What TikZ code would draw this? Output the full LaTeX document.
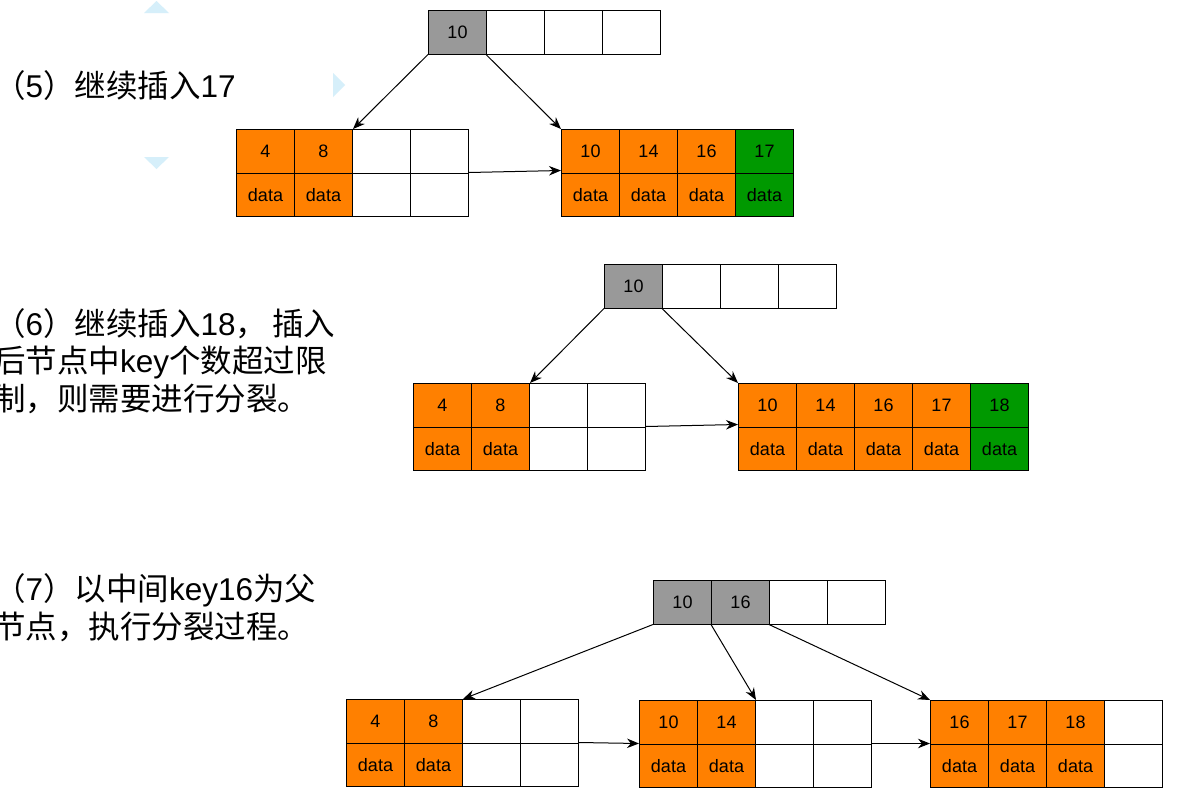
\documentclass[tikz,border=0pt]{standalone}
\usepackage{fontspec}
\setmainfont{Liberation Sans}
\newfontfamily\cjk{Noto Sans CJK SC}
\usetikzlibrary{arrows.meta}
\definecolor{org}{HTML}{FF8000}
\definecolor{grn}{HTML}{009900}
\definecolor{gry}{HTML}{999999}
\definecolor{tri}{HTML}{D6EFFA}
\tikzset{
  cell/.style={draw=black, line width=1pt, rectangle, inner sep=0pt, anchor=north west,
    minimum width=58pt, minimum height=#1, font=\fontsize{18}{18}\selectfont},
  cell/.default=43.5pt,
  link/.style={draw=black, line width=1pt, -{Stealth[length=12pt,width=9.5pt]}},
  desc/.style={anchor=base west, align=left, inner sep=0pt, font=\fontsize{31.5}{37.5}\selectfont},
  deco/.style={fill=tri, draw=none}
}
% #1 name, #2 x, #3 y, #4 list text/fill
\newcommand\rowcells[4]{%
  \foreach \t/\f [count=\i] in {#4} {
    \node[cell, fill=\f] (#1\i) at ({#2+(\i-1)*58},#3) {\t};
  }%
}
\begin{document}
\begin{tikzpicture}[x=1pt, y=-1pt]
\useasboundingbox (0,0) rectangle (1192,806);
\fill[white] (0,0) rectangle (1192,806);

% decorative triangles
\fill[deco] (144,13) -- (169,13) -- (156.5,1) -- cycle;
\fill[deco] (333,73) -- (345,85) -- (333,97) -- cycle;
\fill[deco] (144,157) -- (169,157) -- (156.5,169) -- cycle;

% ---- texts (base anchor = baseline of last line)
\node[desc] (t5) at (-6,97) {{\cjk （}5{\cjk ）继续插入}17};
\node[desc] (t6) at (-6,410) {{\cjk （}6{\cjk ）继续插入}18{\cjk ，\,插入}\\
  {\cjk 后节点中}key{\cjk 个数超过限}\\
  {\cjk 制，则需要进行分裂。}};
\node[desc] (t7) at (-6,638) {{\cjk （}7{\cjk ）以中间}key16{\cjk 为父}\\
  {\cjk 节点，执行分裂过程。}};

% ---- step 5
\rowcells{aR}{428}{10}{10/gry,/white,/white,/white}
\rowcells{aLk}{236}{129}{4/org,8/org,/white,/white}
\rowcells{aLd}{236}{172.5}{data/org,data/org,/white,/white}
\rowcells{aMk}{561}{129}{10/org,14/org,16/org,17/grn}
\rowcells{aMd}{561}{172.5}{data/org,data/org,data/org,data/grn}
\draw[link] (aR1.south west) -- (aLk2.north east);
\draw[link] (aR2.south west) -- (aMk1.north west);
\draw[link] (aLd4.north east) -- ([yshift=2pt]aMd1.north west);

% ---- step 6
\rowcells{bR}{604}{264}{10/gry,/white,/white,/white}
\rowcells{bLk}{413}{383}{4/org,8/org,/white,/white}
\rowcells{bLd}{413}{426.5}{data/org,data/org,/white,/white}
\rowcells{bMk}{738}{383}{10/org,14/org,16/org,17/org,18/grn}
\rowcells{bMd}{738}{426.5}{data/org,data/org,data/org,data/org,data/grn}
\draw[link] (bR1.south west) -- (bLk2.north east);
\draw[link] (bR2.south west) -- (bMk1.north west);
\draw[link] (bLd4.north east) -- ([yshift=2pt]bMd1.north west);

% ---- step 7
\rowcells{cR}{653}{580}{10/gry,16/gry,/white,/white}
\rowcells{cAk}{346}{699}{4/org,8/org,/white,/white}
\rowcells{cAd}{346}{742.5}{data/org,data/org,/white,/white}
\rowcells{cBk}{639}{700}{10/org,14/org,/white,/white}
\rowcells{cBd}{639}{743.5}{data/org,data/org,/white,/white}
\rowcells{cCk}{930}{700}{16/org,17/org,18/org,/white}
\rowcells{cCd}{930}{743.5}{data/org,data/org,data/org,/white}
\draw[link] (cR1.south west) -- (cAk2.north east);
\draw[link] (cR2.south west) -- (cBk2.north east);
\draw[link] (cR3.south west) -- (cCk1.north west);
\draw[link] (cAd4.north east) -- (cBd1.north west);
\draw[link] (cBd4.north east) -- (cCd1.north west);
\end{tikzpicture}
\end{document}
